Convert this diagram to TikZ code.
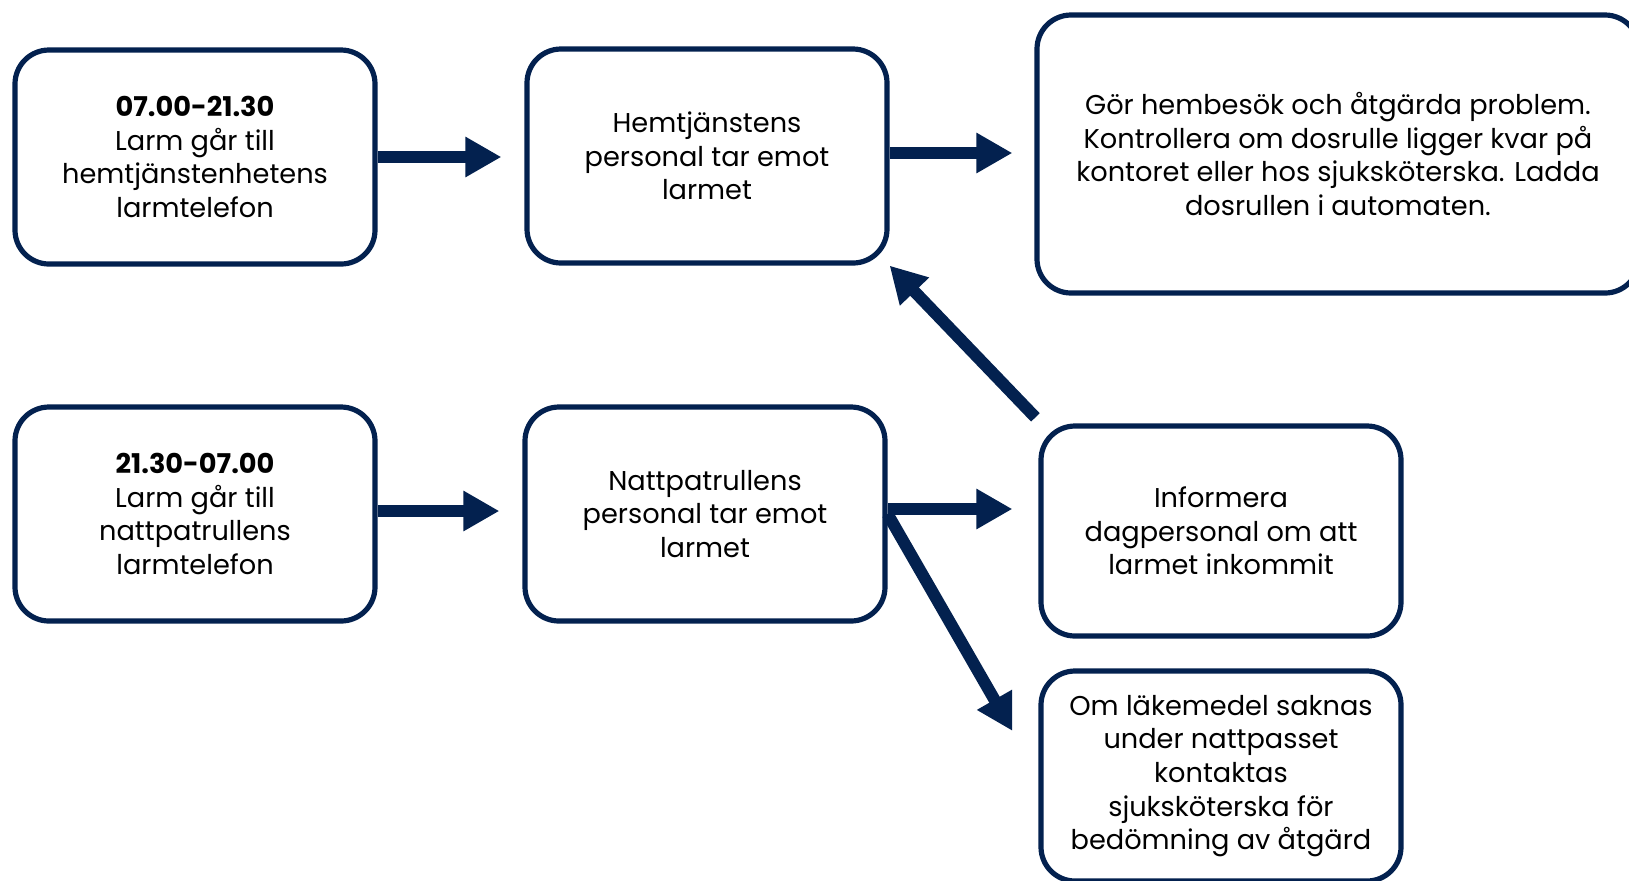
\documentclass[tikz,border=0pt]{standalone}
\usepackage{fontspec}
\setmainfont{Poppins}
\usetikzlibrary{positioning,calc,arrows.meta}
\definecolor{navy}{HTML}{03214F}
\tikzset{ARROW/.style={navy, line width=6pt, -{Triangle[length=18pt,width=19pt]}}}
\tikzset{BOX/.style={rectangle, rounded corners=17pt, draw=navy, line width=2.6pt, minimum width=180pt, minimum height=107pt, align=center, font=\fontsize{13.6}{16.8}\selectfont}}
\begin{document}
\begin{tikzpicture}[x=0.5pt,y=-0.5pt]
    \useasboundingbox (0,0) rectangle (1629,880);

    \node[BOX] (n_day) at (195,157) {\textbf{07.00-21.30}\\Larm går till\\hemtjänstenhetens\\larmtelefon};
    \node[BOX] (n_hemtj) at (707,156) {Hemtjänstens\\personal tar emot\\larmet};
    \node[BOX, minimum width=301pt, minimum height=139pt] (n_visit) at (1338,154) {Gör hembesök och åtgärda problem.\\Kontrollera om dosrulle ligger kvar på\\kontoret eller hos sjuksköterska. Ladda\\dosrullen i automaten.};

    \node[BOX] (n_night) at (195,514) {\textbf{21.30-07.00}\\Larm går till\\nattpatrullens\\larmtelefon};
    \node[BOX] (n_natt) at (705,514) {Nattpatrullens\\personal tar emot\\larmet};
    \node[BOX, minimum height=105pt] (n_inform) at (1221,531) {Informera\\dagpersonal om att\\larmet inkommit};
    \node[BOX, minimum height=105pt] (n_nurse) at (1221,776) {Om läkemedel saknas\\under nattpasset\\kontaktas\\sjuksköterska för\\bedömning av åtgärd};

    \draw[ARROW, shorten >=11.5pt] (n_day.east) -- (n_day.east -| n_hemtj.west);
    \draw[ARROW, shorten >=11pt] ($(n_hemtj.east)+(0,-3)$) -- ($(n_hemtj.east -| n_visit.west)+(0,-3)$);
    \draw[ARROW, shorten >=11.5pt] ($(n_night.east)+(0,-3)$) -- ($(n_night.east -| n_natt.west)+(0,-3)$);
    \draw[ARROW, shorten >=13pt] ($(n_natt.east)+(0,-5)$) -- ($(n_natt.east -| n_inform.west)+(0,-5)$);
    \draw[ARROW, shorten >=26pt] (n_natt.east) -- (n_nurse.west);
    \draw[ARROW] ($(n_inform.north west)+(-3,-6)$) -- (n_hemtj.south east);

\end{tikzpicture}
\end{document}
